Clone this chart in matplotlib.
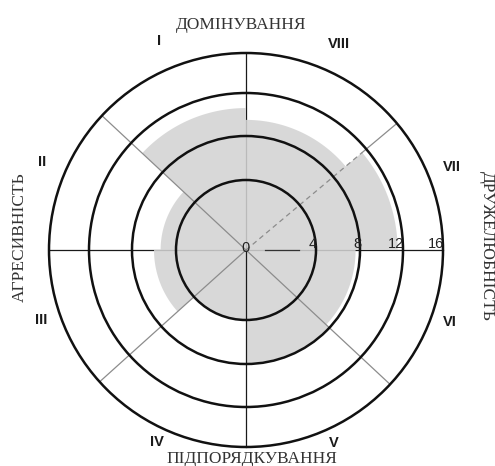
import numpy as np
import matplotlib.pyplot as plt
from matplotlib.patches import Circle, Polygon

# ring values and the radius (px) they are drawn at - the scale is not linear
ring_values = [0, 4, 8, 12, 16]
ring_px = [0, 70, 114, 157, 197]

# octant borders, degrees counterclockwise from the right-hand axis
spoke_angles = [0, 40, 90, 137, 180, 222, 270, 317]
# profile score per octant, starting with the one between 0 and 40 deg
octant_scores = [11.5, 9.5, 10.6, 5.4, 6.0, 4.0, 7.9, 7.6]
octant_names = ['VII', 'VIII', 'I', 'II', 'III', 'IV', 'V', 'VI']

axis_names = ['ДРУЖЕЛЮБНІСТЬ', 'ДОМІНУВАННЯ', 'АГРЕСИВНІСТЬ', 'ПІДПОРЯДКУВАННЯ']
scale_labels = [0, 4, 8, 12, 16]

W, H = 495, 466
cx, cy = 246, 250


def R(v):
    return np.interp(v, ring_values, ring_px)


def xy(r, deg):
    t = np.radians(deg)
    return cx + r * np.cos(t), cy - r * np.sin(t)


fig = plt.figure(figsize=(W / 100, H / 100), dpi=100)
ax = fig.add_axes([0, 0, 1, 1])
ax.set_xlim(0, W)
ax.set_ylim(H, 0)
ax.set_aspect('equal')
ax.axis('off')

# profile area
pts = []
ends = spoke_angles[1:] + [360]
for a0, a1, v in zip(spoke_angles, ends, octant_scores):
    t = np.linspace(a0, a1, 40)
    px, py = xy(R(v), t)
    pts += list(zip(px, py))
ax.add_patch(Polygon(pts, closed=True, fc='#d3d3d3', ec='none', alpha=0.87, zorder=2))

# spokes
rmax = R(16)
for a in spoke_angles:
    x1, y1 = xy(rmax, a)
    if a % 90 == 0:
        z = 3 if a == 270 else 1
        ax.plot([cx, x1], [cy, y1], color='#1a1a1a', lw=0.9, zorder=z)
    elif a == 40:
        xm, ym = xy(R(octant_scores[0]), a)
        ax.plot([cx, xm], [cy, ym], color='#8c8c8c', lw=0.9, ls=(0, (4, 3)), zorder=3)
        ax.plot([xm, x1], [ym, y1], color='#8c8c8c', lw=0.9, zorder=3)
    else:
        ax.plot([cx, x1], [cy, y1], color='#8c8c8c', lw=0.9, zorder=3)
# darker bit of the right axis near the centre
ax.plot([cx + R(1.1), cx + R(3.0)], [cy, cy], color='#333333', lw=0.9, zorder=3)

# rings
for v in ring_values[1:]:
    ax.add_patch(Circle((cx, cy), R(v), fill=False, ec='#111111', lw=1.8, zorder=4))

# scale numbers
for v in scale_labels:
    if v == 0:
        ax.text(cx, cy - 2, '0', ha='center', va='center', fontsize=10.5,
                family='Liberation Sans', color='#222222', zorder=5)
    else:
        ax.text(cx + R(v) + 1, cy - 2, str(v), ha='right', va='baseline', fontsize=10.5,
                family='Liberation Sans', color='#222222', zorder=5)

# octant numerals at the middle of each sector
for a0, a1, name in zip(spoke_angles, ends, octant_names):
    t = np.radians((a0 + a1) / 2)
    ax.text(cx + 219 * np.cos(t), cy - 8 - 219 * np.sin(t), name, ha='center', va='center',
            fontsize=10.5, fontweight='bold', family='Liberation Sans', color='#1a1a1a')

serif = dict(family='Liberation Serif', fontsize=12.5, color='#333333')
ax.text(487, 246, axis_names[0], rotation=-90, ha='center', va='center', **serif)
ax.text(241, 25, axis_names[1], ha='center', va='center', **serif)
ax.text(20, 237, axis_names[2], rotation=90, ha='center', va='center', **serif)
ax.text(252, 463, axis_names[3], ha='center', va='baseline', **serif)

fig.savefig('out.png', dpi=100)
